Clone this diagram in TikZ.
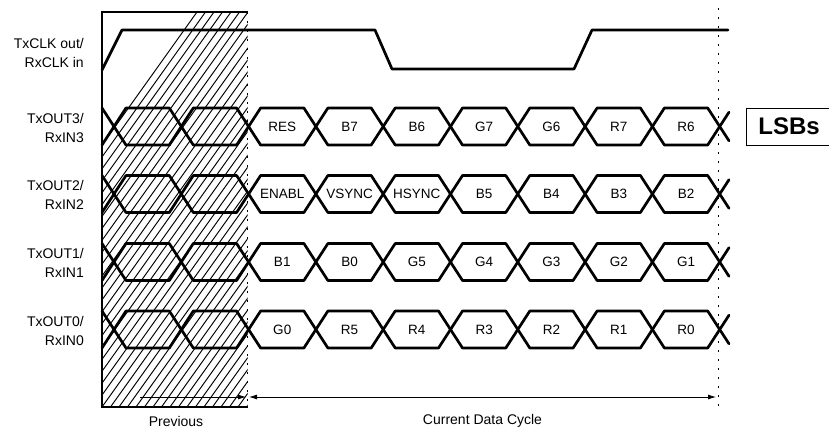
\documentclass[tikz,border=0pt]{standalone}
\usepackage{fontspec}
\setmainfont{Liberation Sans}
\usetikzlibrary{arrows.meta}
\newcommand\cellrow[3]{%
  \foreach \lab [count=\k from 2] in {#3} {%
    \pgfmathsetmacro\cx{114+67.3*(\k+0.5)}%
    \node[cell] (#1c\k) at (\cx,#2) {\lab};%
  }%
}
\begin{document}
\begin{tikzpicture}[x=1pt,y=-1pt,
  sig/.style={line width=2.7pt, line join=round, line cap=round},
  lbl/.style={font=\fontsize{14}{19}\selectfont, align=right, anchor=east, inner sep=0pt},
  txt/.style={font=\fontsize{14}{16}\selectfont, inner sep=0pt},
  cell/.style={font=\fontsize{13.5}{13.5}\selectfont, inner sep=0pt},
  guide/.style={line width=0.9pt, dash pattern=on 2pt off 7pt},
  hatch/.style={line width=0.95pt},
  dim/.style={line width=0.8pt}]
\useasboundingbox (0,0) rectangle (829,428);
% hatched "previous" region
\begin{scope}
  \clip (102,12) rectangle (247.5,407);
  \foreach \i in {-22,...,17} {
    \pgfmathsetmacro\hx{102+8.5*\i}
    \draw[hatch] (\hx,407) -- ++(282,-395);
  }
\end{scope}
\draw[line width=1.3pt] (247.5,12) -- (102,12) -- (102,407) -- (247.5,407);
\draw[guide] (247.5,12) -- (247.5,407);
\draw[guide] (718,8) -- (718,410);
% clock
\draw[sig] (102,70) -- (122,30) -- (375,30) -- (392,69) -- (574,69) -- (592,30) -- (728,30);
% data rows
\foreach \yc in {126.5,194,262,329.5} {
  \foreach \k in {0,...,8} {
    \pgfmathsetmacro\ca{114+67.3*\k}
    \pgfmathsetmacro\cb{114+67.3*(\k+1)}
    \draw[sig] (\ca,\yc) -- (\ca+12,\yc-18.5) -- (\cb-12,\yc-18.5) -- (\cb,\yc)
       -- (\cb-12,\yc+18.5) -- (\ca+12,\yc+18.5) -- cycle;
  }
  \draw[sig] (102,\yc-18.5) -- (114,\yc) -- (102,\yc+18.5);
  \draw[sig] (729,\yc-14.3) -- (719.7,\yc) -- (729,\yc+14.3);
}
\cellrow{r3}{126.5}{RES,B7,B6,G7,G6,R7,R6}
\cellrow{r2}{194}{ENABL,VSYNC,HSYNC,B5,B4,B3,B2}
\cellrow{r1}{262}{B1,B0,G5,G4,G3,G2,G1}
\cellrow{r0}{329.5}{G0,R5,R4,R3,R2,R1,R0}
% row labels
\node[lbl] (lclk) at (84,53) {TxCLK out/\\RxCLK in};
\node[lbl] (l3) at (84,127.5) {TxOUT3/\\RxIN3};
\node[lbl] (l2) at (84,195) {TxOUT2/\\RxIN2};
\node[lbl] (l1) at (84,263) {TxOUT1/\\RxIN1};
\node[lbl] (l0) at (84,330.5) {TxOUT0/\\RxIN0};
% LSBs
\draw[line width=0.6pt] (829,108) -- (746,108) -- (746,145) -- (829,145);
\node[font=\bfseries\fontsize{24}{24}\selectfont, inner sep=0pt] (lsb) at (789,126.5) {LSBs};
% dimension arrows
\coordinate (pv0) at (140,397);
\coordinate (pv1) at (246,397);
\coordinate (cd0) at (249,397);
\coordinate (cd1) at (716,397);
\draw[dim, -{Latex[length=8pt,width=5pt]}] (pv0) -- (pv1);
\draw[dim, {Latex[length=8pt,width=5pt]}-{Latex[length=8pt,width=5pt]}] (cd0) -- (cd1);
\node[txt] (prev) at (176,421) {Previous};
\node[txt] (cur) at (482.5,421) {Current Data Cycle};
\end{tikzpicture}
\end{document}
